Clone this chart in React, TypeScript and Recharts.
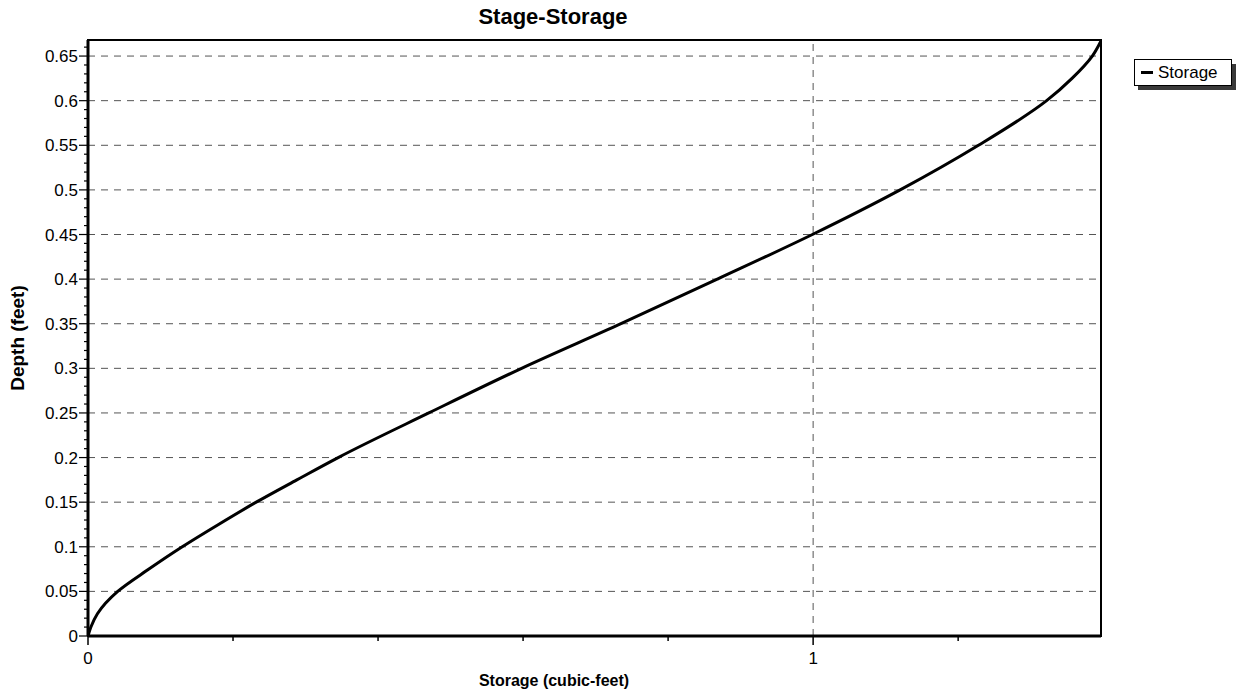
import React from "react"
import { LineChart, Line, XAxis, YAxis, ReferenceLine, ReferenceArea, Label } from "recharts"

// depth (ft), with matching storage (cf)
const depthFeet = [0, 0.01, 0.025, 0.05, 0.075, 0.1, 0.125, 0.15, 0.175, 0.2, 0.25, 0.3, 0.35, 0.4, 0.45, 0.5, 0.55, 0.6, 0.625, 0.65, 0.667]
const storageCf = [0, 0.004, 0.013, 0.041, 0.084, 0.13, 0.18, 0.232, 0.288, 0.345, 0.47, 0.598, 0.735, 0.868, 0.999, 1.12, 1.228, 1.322, 1.357, 1.385, 1.397]

const yMajorTicks = [0, 0.05, 0.1, 0.15, 0.2, 0.25, 0.3, 0.35, 0.4, 0.45, 0.5, 0.55, 0.6, 0.65]
const yMinorTicks = Array.from({ length: 67 }, (_, i) => i / 100)
const xTicks = [0, 0.2, 0.4, 0.6, 0.8, 1, 1.2]
const xLabelled = [0, 1]
const xGridLines = [1]

const data = storageCf.map((s, i) => ({ storage: s, depth: depthFeet[i] }))

const FONT = "'Liberation Sans', Arial, sans-serif"

const isMajorY = (v: number) => Math.round(v * 100) % 5 === 0

function YTick(props: any) {
  const { x, y, payload } = props
  const v = payload.value
  const major = isMajorY(v)
  return (
    <g>
      <line x1={x - (major ? 9 : 4)} x2={x} y1={y} y2={y} stroke="#000" strokeWidth={1.2} />
      {major && (
        <text x={x - 10} y={y} dy={6} textAnchor="end" fontSize={17} fontFamily={FONT} fill="#000">
          {String(Number(v.toFixed(2)))}
        </text>
      )}
    </g>
  )
}

function XTick(props: any) {
  const { x, y, payload } = props
  const v = payload.value
  const labelled = xLabelled.includes(v)
  return (
    <g>
      <line x1={x} x2={x} y1={y} y2={y + (labelled ? 9 : 5)} stroke="#000" strokeWidth={1.5} />
      {labelled && (
        <text x={x} y={y + 28} textAnchor="middle" fontSize={17} fontFamily={FONT} fill="#000">
          {String(v)}
        </text>
      )}
    </g>
  )
}

function StorageLegend() {
  return (
    <div style={{ position: "absolute", left: 1134, top: 59, width: 104, height: 32 }}>
      <div style={{ position: "absolute", left: 4, top: 5, width: 98, height: 26, background: "#3a3a3a" }} />
      <div
        style={{
          position: "absolute",
          left: 0,
          top: 0,
          width: 96,
          height: 25,
          border: "1px solid #000",
          background: "#fff",
          display: "flex",
          alignItems: "center",
          fontFamily: FONT,
          fontSize: 17,
        }}
      >
        <span style={{ display: "inline-block", width: 12, height: 3, background: "#000", margin: "0 5px 0 6px" }} />
        Storage
      </div>
    </div>
  )
}

export default function App() {
  return (
    <div style={{ position: "absolute", left: 0, top: 0, width: 1243, height: 692, background: "#fff" }}>
      <div
        style={{
          position: "absolute",
          left: 553,
          top: 4,
          transform: "translateX(-50%)",
          fontFamily: FONT,
          fontWeight: "bold",
          fontSize: 22,
          whiteSpace: "nowrap",
        }}
      >
        Stage-Storage
      </div>
      <LineChart width={1243} height={692} data={data} margin={{ top: 40, right: 142, bottom: 0, left: 0 }}>
        <XAxis
          dataKey="storage"
          type="number"
          domain={[0, 1.397]}
          ticks={xTicks}
          interval={0}
          tickSize={0}
          tickMargin={0}
          tickLine={false}
          tick={<XTick />}
          axisLine={{ stroke: "#000", strokeWidth: 3 }}
          height={56}
          allowDataOverflow
        >
          <Label
            content={() => (
              <text x={554} y={686} textAnchor="middle" fontSize={16} fontWeight="bold" fontFamily={FONT} fill="#000">
                Storage (cubic-feet)
              </text>
            )}
          />
        </XAxis>
        <YAxis
          dataKey="depth"
          type="number"
          domain={[0, 0.668]}
          ticks={yMinorTicks}
          interval={0}
          tickSize={0}
          tickMargin={0}
          tickLine={false}
          tick={<YTick />}
          axisLine={{ stroke: "#000", strokeWidth: 3 }}
          width={88}
          allowDataOverflow
        >
          <Label
            content={() => (
              <text
                x={24}
                y={338}
                transform="rotate(-90 24 338)"
                textAnchor="middle"
                fontSize={19}
                fontWeight="bold"
                fontFamily={FONT}
                fill="#000"
              >
                Depth (feet)
              </text>
            )}
          />
        </YAxis>
        <ReferenceArea x1={0} x2={1.397} y1={0} y2={0.668} fill="none" stroke="#000" strokeWidth={2} ifOverflow="extendDomain" />
        {yMajorTicks.slice(1).map((v) => (
          <ReferenceLine key={"h" + v} y={v} stroke="#555" strokeWidth={1} strokeDasharray="7 6" />
        ))}
        {xGridLines.map((v) => (
          <ReferenceLine key={"v" + v} x={v} stroke="#555" strokeWidth={1} strokeDasharray="7 6" />
        ))}
        <Line
          type="monotoneY"
          dataKey="depth"
          stroke="#000"
          strokeWidth={3}
          dot={false}
          isAnimationActive={false}
        />
      </LineChart>
      <StorageLegend />
    </div>
  )
}
